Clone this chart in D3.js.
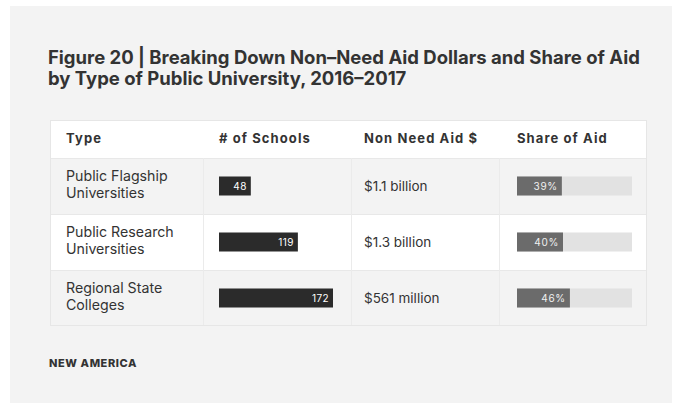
<!DOCTYPE html>
<html>
<head>
<meta charset="utf-8">
<script src="https://cdn.jsdelivr.net/npm/d3@7"></script>
<style>
  html, body { margin: 0; padding: 0; background: #ffffff; }
  svg { display: block; }
</style>
</head>
<body>
<svg id="chart" width="673" height="404"></svg>
<script>
// Row categories and values
const types = [["Public Flagship", "Universities"], ["Public Research", "Universities"], ["Regional State", "Colleges"]];
const schools = [48, 119, 172];
const aidLabels = ["$1.1 billion", "$1.3 billion", "$561 million"];
const sharePct = [39, 40, 46];
const headers = ["Type", "# of Schools", "Non Need Aid $", "Share of Aid"];

const svg = d3.select("#chart");
const FONT = "Inter, 'Open Sans', sans-serif";
const ink = "#333333";

// Background panel
svg.append("rect").attr("x", 10).attr("y", 6).attr("width", 662).attr("height", 397).attr("fill", "#f3f3f3");

// Title
const title = svg.append("text").attr("x", 48).attr("font-family", FONT).attr("font-weight", 700)
  .attr("font-size", 18.5).attr("fill", ink);
title.append("tspan").attr("x", 48).attr("y", 64).text("Figure 20 | Breaking Down Non\u2013Need Aid Dollars and Share of Aid");
title.append("tspan").attr("x", 48).attr("y", 85).text("by Type of Public University, 2016\u20132017");

// Table geometry
const tableLeft = 50, tableRight = 647, headTop = 120, headBottom = 158, tableBottom = 326;
const colX = [66, 219, 364, 517];
const dividers = [203, 351, 499];

const row = d3.scaleBand().domain(d3.range(types.length)).range([headBottom, tableBottom]);
const xSchools = d3.scaleLinear().domain([0, 172]).range([0, 114]);
const xShare = d3.scaleLinear().domain([0, 100]).range([0, 115]);

// Header row
svg.append("rect").attr("x", tableLeft).attr("y", headTop).attr("width", tableRight - tableLeft)
  .attr("height", headBottom - headTop).attr("fill", "#ffffff");

// Body rows, alternating fill
svg.selectAll("rect.row").data(d3.range(types.length)).join("rect").attr("class", "row")
  .attr("x", tableLeft).attr("y", i => row(i)).attr("width", tableRight - tableLeft)
  .attr("height", row.bandwidth()).attr("fill", i => i % 2 === 1 ? "#ffffff" : "#f3f3f3");

// Row separators and outline
svg.selectAll("line.sep").data(d3.range(types.length)).join("line").attr("class", "sep")
  .attr("x1", tableLeft).attr("x2", tableRight).attr("y1", i => row(i) + 0.5).attr("y2", i => row(i) + 0.5)
  .attr("stroke", "#e8e8e8");
svg.selectAll("line.div").data(dividers).join("line").attr("class", "div")
  .attr("x1", d => d + 0.5).attr("x2", d => d + 0.5).attr("y1", headBottom).attr("y2", tableBottom)
  .attr("stroke", "#ebebeb");
svg.append("rect").attr("x", tableLeft + 0.5).attr("y", headTop + 0.5).attr("width", tableRight - tableLeft - 1)
  .attr("height", tableBottom - headTop - 1).attr("fill", "none").attr("stroke", "#e6e6e6");

// Header labels
svg.selectAll("text.head").data(headers).join("text").attr("class", "head")
  .attr("x", (d, i) => colX[i]).attr("y", 143).attr("font-family", FONT).attr("font-weight", 700)
  .attr("font-size", 13).attr("letter-spacing", 1.1).attr("fill", ink).text(d => d);

// Type names (two lines)
const typeText = svg.selectAll("text.type").data(types).join("text").attr("class", "type")
  .attr("font-family", FONT).attr("font-size", 14.2).attr("fill", ink);
typeText.each(function(d, i) {
  const t = d3.select(this);
  t.append("tspan").attr("x", colX[0]).attr("y", row(i) + 23).text(d[0]);
  t.append("tspan").attr("x", colX[0]).attr("y", row(i) + 40).text(d[1]);
});

// School count bars
const barH = 19;
svg.selectAll("rect.schools").data(schools).join("rect").attr("class", "schools")
  .attr("x", colX[1]).attr("y", (d, i) => row(i) + row.bandwidth() / 2 - barH / 2)
  .attr("width", d => xSchools(d)).attr("height", barH).attr("fill", "#2b2b2b");
svg.selectAll("text.schools").data(schools).join("text").attr("class", "schools")
  .attr("x", d => colX[1] + xSchools(d) - 4).attr("y", (d, i) => row(i) + row.bandwidth() / 2 + 3.5)
  .attr("text-anchor", "end").attr("font-family", FONT).attr("font-size", 10).attr("letter-spacing", 0.4)
  .attr("fill", "#ffffff").text(d => d);

// Aid dollars
svg.selectAll("text.aid").data(aidLabels).join("text").attr("class", "aid")
  .attr("x", colX[2]).attr("y", (d, i) => row(i) + row.bandwidth() / 2 + 5)
  .attr("font-family", FONT).attr("font-size", 13.5).attr("fill", ink).text(d => d);

// Share of aid: track and bar
svg.selectAll("rect.track").data(sharePct).join("rect").attr("class", "track")
  .attr("x", colX[3]).attr("y", (d, i) => row(i) + row.bandwidth() / 2 - barH / 2)
  .attr("width", xShare(100)).attr("height", barH).attr("fill", "#e2e2e2");
svg.selectAll("rect.share").data(sharePct).join("rect").attr("class", "share")
  .attr("x", colX[3]).attr("y", (d, i) => row(i) + row.bandwidth() / 2 - barH / 2)
  .attr("width", d => xShare(d)).attr("height", barH).attr("fill", "#6b6b6b");
svg.selectAll("text.share").data(sharePct).join("text").attr("class", "share")
  .attr("x", d => colX[3] + xShare(d) - 4).attr("y", (d, i) => row(i) + row.bandwidth() / 2 + 3.5)
  .attr("text-anchor", "end").attr("font-family", FONT).attr("font-size", 10).attr("letter-spacing", 0.7)
  .attr("fill", "#f0f0f0").text(d => d + "%");

// Source credit
svg.append("text").attr("x", 49).attr("y", 367).attr("font-family", FONT).attr("font-weight", 800)
  .attr("font-size", 11).attr("letter-spacing", 0.6).attr("fill", ink).text("NEW AMERICA");
</script>
</body>
</html>
